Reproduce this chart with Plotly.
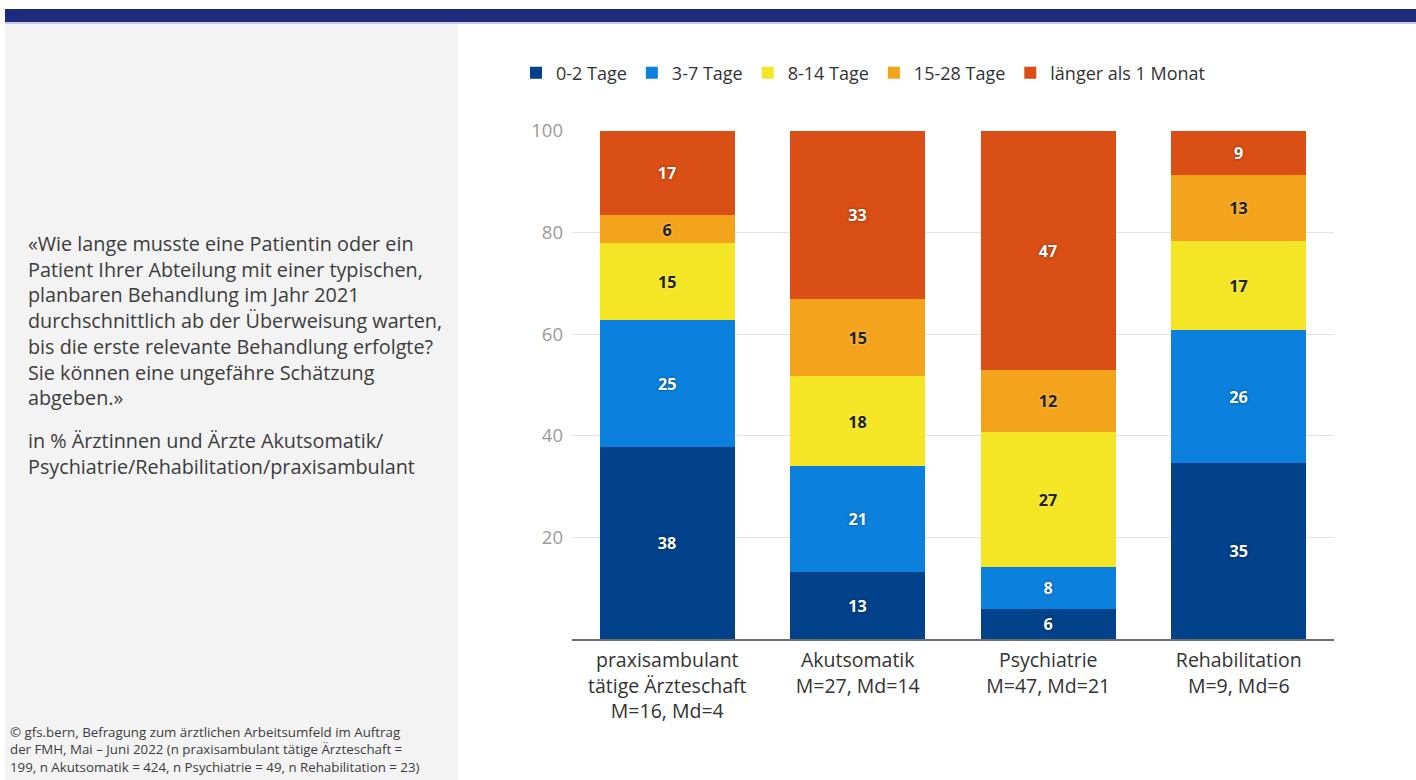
import plotly.graph_objects as go

W, H = 1416, 780

categories = [
    "praxisambulant<br>tätige Ärzteschaft<br>M=16, Md=4",
    "Akutsomatik<br>M=27, Md=14",
    "Psychiatrie<br>M=47, Md=21",
    "Rehabilitation<br>M=9, Md=6",
]
series_names = ["0-2 Tage", "3-7 Tage", "8-14 Tage", "15-28 Tage", "länger als 1 Monat"]

# bar heights (%), and the printed labels
v_0_2 = [37.8, 13.2, 5.9, 34.6]
v_3_7 = [24.9, 20.8, 8.3, 26.3]
v_8_14 = [15.2, 17.7, 26.6, 17.4]
v_15_28 = [5.5, 15.2, 12.1, 13.0]
v_long = [16.6, 33.1, 47.1, 8.7]

lab_0_2 = [38, 13, 6, 35]
lab_3_7 = [25, 21, 8, 26]
lab_8_14 = [15, 18, 27, 17]
lab_15_28 = [6, 15, 12, 13]
lab_long = [17, 33, 47, 9]

y_ticks = [20, 40, 60, 80, 100]

colors = ["#01428b", "#0b80dd", "#f4e624", "#f4a41c", "#da4f16"]
label_colors = ["#ffffff", "#ffffff", "#222222", "#222222", "#ffffff"]

values = [v_0_2, v_3_7, v_8_14, v_15_28, v_long]
labels = [lab_0_2, lab_3_7, lab_8_14, lab_15_28, lab_long]

FONT = "Open Sans"

fig = go.Figure()
for name, vals, labs, col, lcol in zip(series_names, values, labels, colors, label_colors):
    shadow = "0px 0px 3px rgba(0,0,0,0.45)" if lcol == "#ffffff" else "0px 0px 3px rgba(255,255,255,0.5)"
    fig.add_trace(go.Bar(
        name=name,
        x=categories,
        y=vals,
        text=[str(l) for l in labs],
        textposition="inside",
        insidetextanchor="middle",
        textangle=0,
        textfont=dict(family=FONT, size=17, color=lcol, weight="bold", shadow=shadow),
        marker=dict(color=col, line=dict(width=0)),
        hoverinfo="skip",
    ))

def px(x):
    return x / W

def py(y):
    return 1 - y / H

shapes = [
    # top navy band
    dict(type="rect", xref="paper", yref="paper", x0=px(5), x1=px(1416), y0=py(22.3), y1=py(9),
         fillcolor="#1e2a7b", line=dict(width=0), layer="below"),
    dict(type="rect", xref="paper", yref="paper", x0=px(5), x1=px(1416), y0=py(24), y1=py(22.3),
         fillcolor="#c9cbe8", line=dict(width=0), layer="below"),
    # left grey panel
    dict(type="rect", xref="paper", yref="paper", x0=px(5), x1=px(458), y0=0, y1=py(24),
         fillcolor="#f3f3f3", line=dict(width=0), layer="below"),
]

question = ("«Wie lange musste eine Patientin oder ein<br>"
            "Patient Ihrer Abteilung mit einer typischen,<br>"
            "planbaren Behandlung im Jahr 2021<br>"
            "durchschnittlich ab der Überweisung warten,<br>"
            "bis die erste relevante Behandlung erfolgte?<br>"
            "Sie können eine ungefähre Schätzung<br>"
            "abgeben.»")
subtitle = "in % Ärztinnen und Ärzte Akutsomatik/<br>Psychiatrie/Rehabilitation/praxisambulant"
source = ("© gfs.bern, Befragung zum ärztlichen Arbeitsumfeld im Auftrag<br>"
          "der FMH, Mai – Juni 2022 (n praxisambulant tätige Ärzteschaft =<br>"
          "199, n Akutsomatik = 424, n Psychiatrie = 49, n Rehabilitation = 23)")

annotations = [
    dict(text=question, xref="paper", yref="paper", x=px(26), y=py(228), xanchor="left", yanchor="top",
         align="left", showarrow=False, font=dict(family=FONT, size=19.8, color="#3c3c3c")),
    dict(text=subtitle, xref="paper", yref="paper", x=px(26), y=py(425), xanchor="left", yanchor="top",
         align="left", showarrow=False, font=dict(family=FONT, size=19.8, color="#3c3c3c")),
    dict(text=source, xref="paper", yref="paper", x=px(8), y=py(721), xanchor="left", yanchor="top",
         align="left", showarrow=False, font=dict(family=FONT, size=13.3, color="#3c3c3c")),
]

fig.update_layout(
    width=W, height=H,
    barmode="stack",
    bargap=0.29,
    paper_bgcolor="#ffffff",
    plot_bgcolor="#ffffff",
    margin=dict(l=0, r=0, t=0, b=0, autoexpand=False),
    shapes=shapes,
    annotations=annotations,
    showlegend=True,
    legend=dict(orientation="h", x=px(516), y=py(73), xanchor="left", yanchor="middle",
                font=dict(family=FONT, size=18, color="#333333"),
                traceorder="normal", itemclick=False, itemdoubleclick=False,
                bgcolor="rgba(0,0,0,0)"),
    uniformtext=dict(minsize=16, mode="show"),
    xaxis=dict(domain=[px(572), px(1334)], showgrid=False, automargin=False,
               showline=True, linecolor="#6f6f6f", linewidth=2,
               ticks="", tickfont=dict(family=FONT, size=19.5, color="#333333"),
               ticklabelstandoff=3, fixedrange=True),
    yaxis=dict(domain=[py(639), py(131)], range=[0, 100], tickvals=y_ticks, automargin=False,
               showgrid=True, gridcolor="#e4e4e4", gridwidth=1, zeroline=False,
               showline=False, ticks="", ticklabelstandoff=8,
               tickfont=dict(family=FONT, size=18.5, color="#9a9a9a"), fixedrange=True),
    font=dict(family=FONT),
)

fig.write_html("out.html", config={"displayModeBar": False})
